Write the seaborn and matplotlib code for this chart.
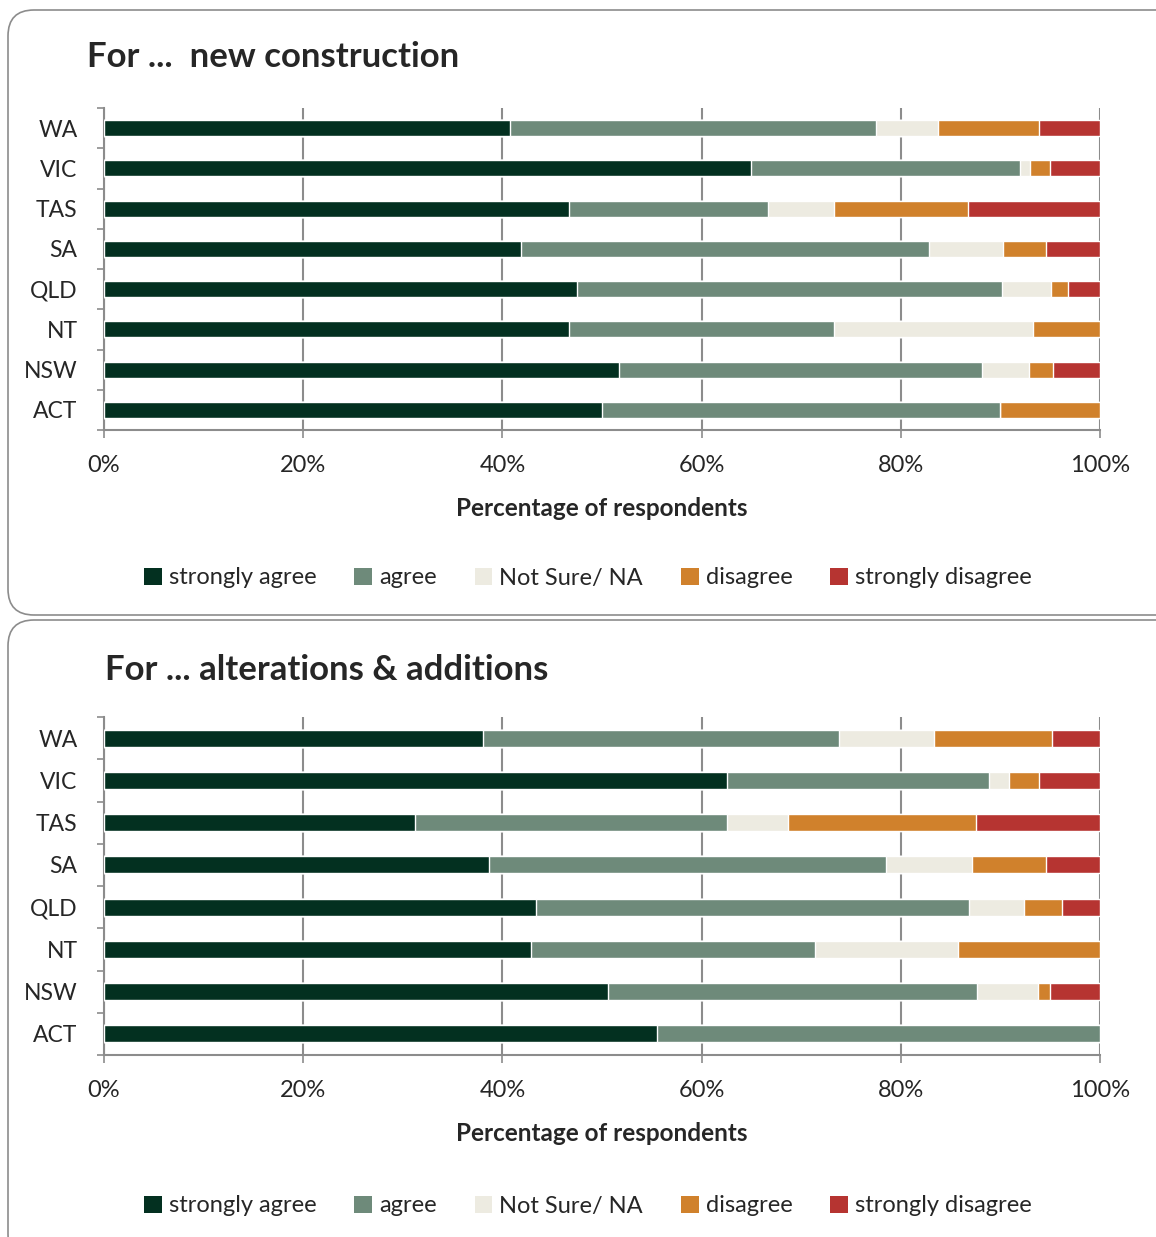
import matplotlib
matplotlib.use('Agg')
import matplotlib.pyplot as plt
from matplotlib.patches import FancyBboxPatch, Patch
from matplotlib.transforms import IdentityTransform
import numpy as np
import pandas as pd
import seaborn as sns

# Data (percent of respondents)
states = ['WA', 'VIC', 'TAS', 'SA', 'QLD', 'NT', 'NSW', 'ACT']
levels = ['strongly agree', 'agree', 'Not Sure/ NA', 'disagree', 'strongly disagree']
colors = ['#033020', '#6E8A7A', '#EDEBE1', '#D0812C', '#B63431']

new_strongly_agree = [40.8, 65.0, 46.7, 41.9, 47.5, 46.7, 51.7, 50.0]
new_agree = [36.7, 27.0, 20.0, 40.9, 42.7, 26.6, 36.5, 40.0]
new_not_sure = [6.2, 1.0, 6.6, 7.5, 4.9, 20.0, 4.7, 0.0]
new_disagree = [10.2, 2.0, 13.4, 4.3, 1.7, 6.7, 2.4, 10.0]
new_strongly_disagree = [6.1, 5.0, 13.3, 5.4, 3.2, 0.0, 4.7, 0.0]

alt_strongly_agree = [38.1, 62.6, 31.2, 38.7, 43.4, 42.9, 50.6, 55.5]
alt_agree = [35.7, 26.3, 31.3, 39.8, 43.4, 28.5, 37.1, 44.5]
alt_not_sure = [9.5, 2.0, 6.2, 8.6, 5.6, 14.3, 6.1, 0.0]
alt_disagree = [11.9, 3.0, 18.8, 7.5, 3.8, 14.3, 1.2, 0.0]
alt_strongly_disagree = [4.8, 6.1, 12.5, 5.4, 3.8, 0.0, 5.0, 0.0]

sns.set_theme(style='white')
plt.rcParams['font.family'] = ['Lato', 'DejaVu Sans']

W, H = 1156, 1237
fig = plt.figure(figsize=(W / 100, H / 100), dpi=100)

# Rounded panel borders (pixel coordinates)
for (x0, y_top, y_bot) in [(8, 10, 615), (8, 620, 1260)]:
    box = FancyBboxPatch((x0, H - y_bot), 1200, y_bot - y_top,
                         boxstyle='round,pad=0,rounding_size=26',
                         transform=IdentityTransform(), facecolor='none',
                         edgecolor='#8C8C8C', linewidth=1.2)
    fig.add_artist(box)


def draw_panel(ax, series):
    df = pd.DataFrame(dict(zip(levels, series)), index=states)
    cum = df.cumsum(axis=1)
    # draw from the outermost cumulative segment inwards
    for lev, col in reversed(list(zip(levels, colors))):
        sns.barplot(x=cum[lev].values, y=states, color=col, saturation=1,
                    width=0.4, orient='h', ax=ax, zorder=3)
    ax.set_xlim(0, 100)
    ax.set_ylim(7.5, -0.5)
    ax.set_xticks(np.arange(0, 101, 20))
    ax.set_xticklabels([f'{v}%' for v in range(0, 101, 20)], fontsize=17)
    ax.set_yticks(range(len(states)))
    ax.set_yticklabels(states, fontsize=16.5)
    ax.set_yticks(np.arange(-0.5, len(states), 1), minor=True)
    ax.tick_params(axis='y', which='major', length=0, pad=19)
    ax.tick_params(axis='y', which='minor', left=True, length=5, width=1.2,
                   color='#8C8C8C')
    ax.tick_params(axis='x', which='major', bottom=True, length=6, width=1.2,
                   color='#8C8C8C', pad=12)
    ax.grid(axis='x', color='#8C8C8C', linewidth=1.5, zorder=0)
    ax.set_axisbelow(True)
    for s in ['top', 'right']:
        ax.spines[s].set_visible(False)
    for s in ['left', 'bottom']:
        ax.spines[s].set_color('#8C8C8C')
        ax.spines[s].set_linewidth(1.5)
    ax.set_ylabel('')
    ax.set_xlabel('Percentage of respondents', fontsize=17.5, fontweight='bold',
                  labelpad=15)


left, right = 104 / W, 1100 / W
ax1 = fig.add_axes([left, 1 - 430 / H, right - left, (430 - 108) / H])
ax2 = fig.add_axes([left, 1 - 1055 / H, right - left, (1055 - 717) / H])

draw_panel(ax1, [new_strongly_agree, new_agree, new_not_sure, new_disagree,
                 new_strongly_disagree])
draw_panel(ax2, [alt_strongly_agree, alt_agree, alt_not_sure, alt_disagree,
                 alt_strongly_disagree])

fig.text(87 / W, 1 - 57 / H, 'For ...  new construction', fontsize=25,
         fontweight='bold', va='center', ha='left')
fig.text(105 / W, 1 - 670 / H, 'For ... alterations & additions', fontsize=25,
         fontweight='bold', va='center', ha='left')

handles = [Patch(facecolor=c, edgecolor='none', label=l)
           for l, c in zip(levels, colors)]
for yc in [578, 1206]:
    fig.legend(handles=handles, loc='center', bbox_to_anchor=(588 / W, 1 - yc / H),
               ncol=5, frameon=False, fontsize=17, handlelength=0.75,
               handleheight=0.75, handletextpad=0.3, columnspacing=1.6)

fig.savefig('out.png', dpi=100)
